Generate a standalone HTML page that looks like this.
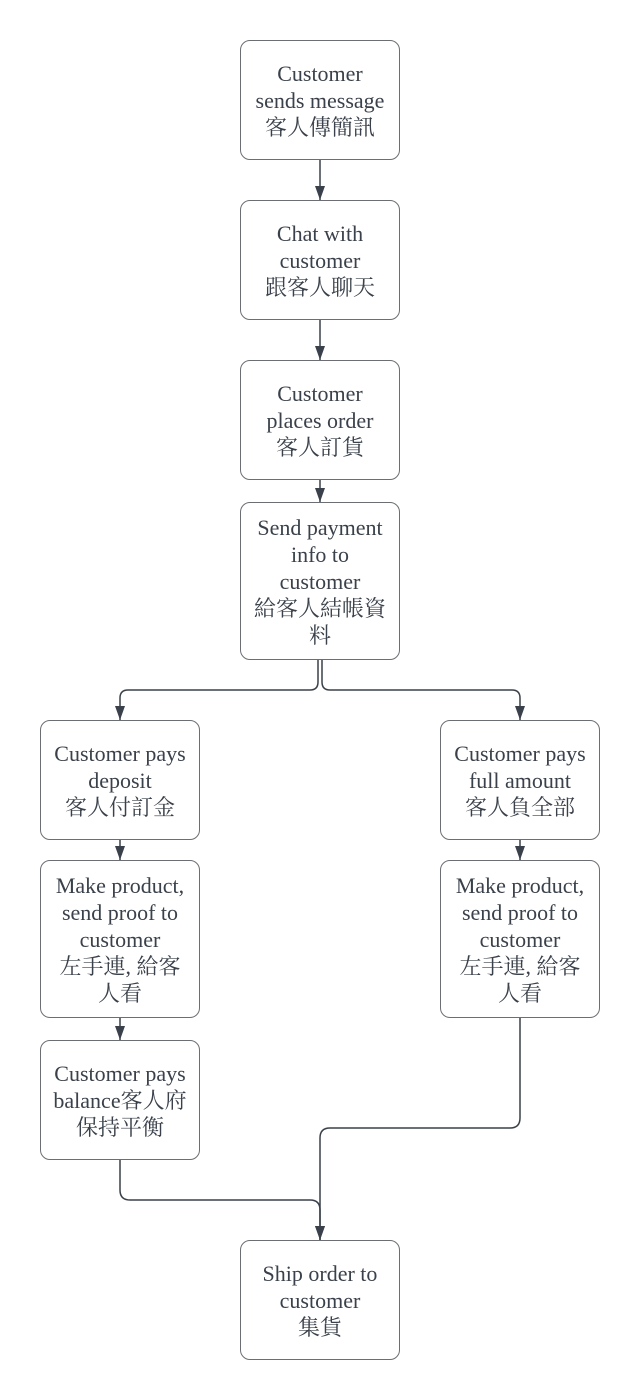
<!DOCTYPE html>
<html><head><meta charset="utf-8"><style>
body{margin:0;width:640px;height:1400px;background:#fff;position:relative;overflow:hidden}
.b{position:absolute;box-sizing:border-box;border:1.5px solid #6b6e73;border-radius:10px;display:flex;align-items:center;justify-content:center;text-align:center;font-family:"Liberation Serif","Noto Serif CJK SC","Noto Sans CJK TC",serif;font-size:22px;line-height:27px;color:#3a414a;padding:0 4px;background:#fff;white-space:nowrap}
svg{position:absolute;left:0;top:0}
</style></head><body>
<svg width="640" height="1400" fill="none" stroke="#3a414a" stroke-width="1.5">
<defs>
<marker id="d" viewBox="0 0 14 10" markerWidth="14" markerHeight="10" refX="14" refY="5" orient="auto" markerUnits="userSpaceOnUse"><path d="M0,0 L14,5 L0,10z" fill="#3a414a" stroke="none"/></marker></defs>
<path d="M320 160V200" marker-end="url(#d)"/>
<path d="M320 320V360" marker-end="url(#d)"/>
<path d="M320 480V502" marker-end="url(#d)"/>
<path d="M318 660V682q0 8-8 8H128q-8 0-8 8V720" marker-end="url(#d)"/>
<path d="M322 660V682q0 8 8 8H512q8 0 8 8V720" marker-end="url(#d)"/>
<path d="M120 840V860" marker-end="url(#d)"/>
<path d="M520 840V860" marker-end="url(#d)"/>
<path d="M120 1018V1040" marker-end="url(#d)"/>
<path d="M120 1160V1190q0 10 10 10H310q10 0 10 10V1240" marker-end="url(#d)"/>
<path d="M520 1018V1118q0 10-10 10H330q-10 0-10 10V1240" marker-end="url(#d)"/>
</svg>
<div class="b" style="left:240px;top:40px;width:160px;height:120px">Customer<br>sends message<br>客人傳簡訊</div>
<div class="b" style="left:240px;top:200px;width:160px;height:120px">Chat with<br>customer<br>跟客人聊天</div>
<div class="b" style="left:240px;top:360px;width:160px;height:120px">Customer<br>places order<br>客人訂貨</div>
<div class="b" style="left:240px;top:502px;width:160px;height:158px">Send payment<br>info to<br>customer<br>給客人結帳資<br>料</div>
<div class="b" style="left:40px;top:720px;width:160px;height:120px">Customer pays<br>deposit<br>客人付訂金</div>
<div class="b" style="left:40px;top:860px;width:160px;height:158px">Make product,<br>send proof to<br>customer<br>左手連, 給客<br>人看</div>
<div class="b" style="left:40px;top:1040px;width:160px;height:120px">Customer pays<br>balance客人府<br>保持平衡</div>
<div class="b" style="left:440px;top:720px;width:160px;height:120px">Customer pays<br>full amount<br>客人負全部</div>
<div class="b" style="left:440px;top:860px;width:160px;height:158px">Make product,<br>send proof to<br>customer<br>左手連, 給客<br>人看</div>
<div class="b" style="left:240px;top:1240px;width:160px;height:120px">Ship order to<br>customer<br>集貨</div>
</body></html>
